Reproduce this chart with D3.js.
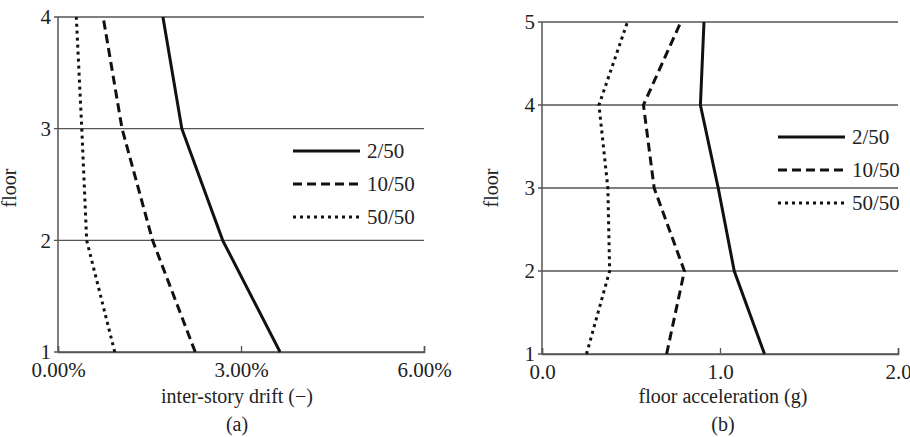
<!DOCTYPE html>
<html>
<head>
<meta charset="utf-8">
<script src="https://d3js.org/d3.v7.min.js"></script>
<style>
  body { margin: 0; background: #fff; }
  text { font-family: "Liberation Serif", "Times New Roman", serif; fill: #222; }
</style>
</head>
<body>
<div id="graph"></div>
<script>
// series labels
var seriesNames = ["2/50", "10/50", "50/50"];

// panel (a): inter-story drift in %, floors 1..4
var floorsA = [1, 2, 3, 4];
var drift2 = [3.64, 2.70, 2.03, 1.72];
var drift10 = [2.25, 1.55, 1.05, 0.74];
var drift50 = [0.93, 0.47, 0.39, 0.30];
var driftTicks = [0, 3, 6];

// panel (b): floor acceleration in g, floors 1..5
var floorsB = [1, 2, 3, 4, 5];
var acc2 = [1.25, 1.08, 0.99, 0.89, 0.91];
var acc10 = [0.70, 0.80, 0.63, 0.57, 0.78];
var acc50 = [0.25, 0.38, 0.37, 0.32, 0.48];
var accTicks = [0, 1, 2];

var dashes = [null, "9,5", "3,4"];

var svg = d3.select("#graph").append("svg")
  .attr("width", 910).attr("height", 437);

function panel(opt) {
  var g = svg.append("g");
  var x = d3.scaleLinear().domain(opt.xDomain).range([opt.left, opt.right]);
  var y = d3.scaleLinear().domain(d3.extent(opt.floors)).range([opt.bottom, opt.top]);

  // horizontal gridlines at each floor
  g.selectAll(".grid").data(opt.floors).enter().append("line")
    .attr("x1", opt.left - 4).attr("x2", opt.right)
    .attr("y1", function(d) { return y(d); }).attr("y2", function(d) { return y(d); })
    .attr("stroke", "#555").attr("stroke-width", 1.3);

  // left axis line
  g.append("line")
    .attr("x1", opt.left).attr("x2", opt.left)
    .attr("y1", opt.top).attr("y2", opt.bottom)
    .attr("stroke", "#555").attr("stroke-width", 1.5);

  // bottom axis with inward ticks
  var xa = g.append("g")
    .attr("transform", "translate(0," + opt.bottom + ")")
    .call(d3.axisBottom(x).tickValues(opt.ticks).tickSize(-6).tickPadding(0).tickFormat(opt.fmt));
  xa.select(".domain").attr("stroke", "#555").attr("stroke-width", 1.5);
  xa.selectAll(".tick line").attr("stroke", "#555").attr("stroke-width", 1.3);
  xa.selectAll(".tick text")
    .attr("y", 25).attr("dy", null)
    .attr("font-size", "21px").attr("fill", "#222")
    .attr("font-family", "Liberation Serif, serif");

  // y tick labels
  g.selectAll(".ylab").data(opt.floors).enter().append("text")
    .attr("x", opt.left - 7)
    .attr("y", function(d) { return y(d); })
    .attr("dy", "0.35em")
    .attr("text-anchor", "end")
    .attr("font-size", "21px")
    .text(function(d) { return d; });

  // y axis title
  g.append("text")
    .attr("transform", "translate(" + opt.yTitleX + "," + opt.yTitleY + ") rotate(-90)")
    .attr("text-anchor", "middle")
    .attr("font-size", "20px")
    .text("floor");

  // x axis title and caption
  g.append("text")
    .attr("x", opt.titleX).attr("y", 403)
    .attr("text-anchor", "middle").attr("font-size", "20px")
    .text(opt.xTitle);
  g.append("text")
    .attr("x", opt.titleX).attr("y", 431)
    .attr("text-anchor", "middle").attr("font-size", "20px")
    .text(opt.caption);

  var line = d3.line()
    .x(function(d) { return x(d[0]); })
    .y(function(d) { return y(d[1]); });

  opt.series.forEach(function(vals, i) {
    var pts = vals.map(function(v, j) { return [v, opt.floors[j]]; });
    g.append("path")
      .attr("d", line(pts))
      .attr("fill", "none")
      .attr("stroke", "#111")
      .attr("stroke-width", 3)
      .attr("stroke-dasharray", dashes[i]);

    var ly = opt.legY + i * 33;
    g.append("line")
      .attr("x1", opt.legX).attr("x2", opt.legX + 67)
      .attr("y1", ly).attr("y2", ly)
      .attr("stroke", "#111").attr("stroke-width", 3)
      .attr("stroke-dasharray", dashes[i]);
    g.append("text")
      .attr("x", opt.legX + 74).attr("y", ly)
      .attr("dy", "0.35em")
      .attr("font-size", "21px")
      .text(seriesNames[i]);
  });
}

panel({
  floors: floorsA, series: [drift2, drift10, drift50],
  xDomain: [0, 6], ticks: driftTicks,
  fmt: function(d) { return d3.format(".2f")(d) + "%"; },
  left: 58, right: 424, top: 17, bottom: 352,
  yTitleX: 16, yTitleY: 188,
  titleX: 237, xTitle: "inter-story drift (\u2212)", caption: "(a)",
  legX: 293, legY: 151
});

panel({
  floors: floorsB, series: [acc2, acc10, acc50],
  xDomain: [0, 2], ticks: accTicks,
  fmt: d3.format(".1f"),
  left: 542, right: 898, top: 22, bottom: 354,
  yTitleX: 498, yTitleY: 188,
  titleX: 723, xTitle: "floor acceleration (g)", caption: "(b)",
  legX: 778, legY: 137
});
</script>
</body>
</html>
